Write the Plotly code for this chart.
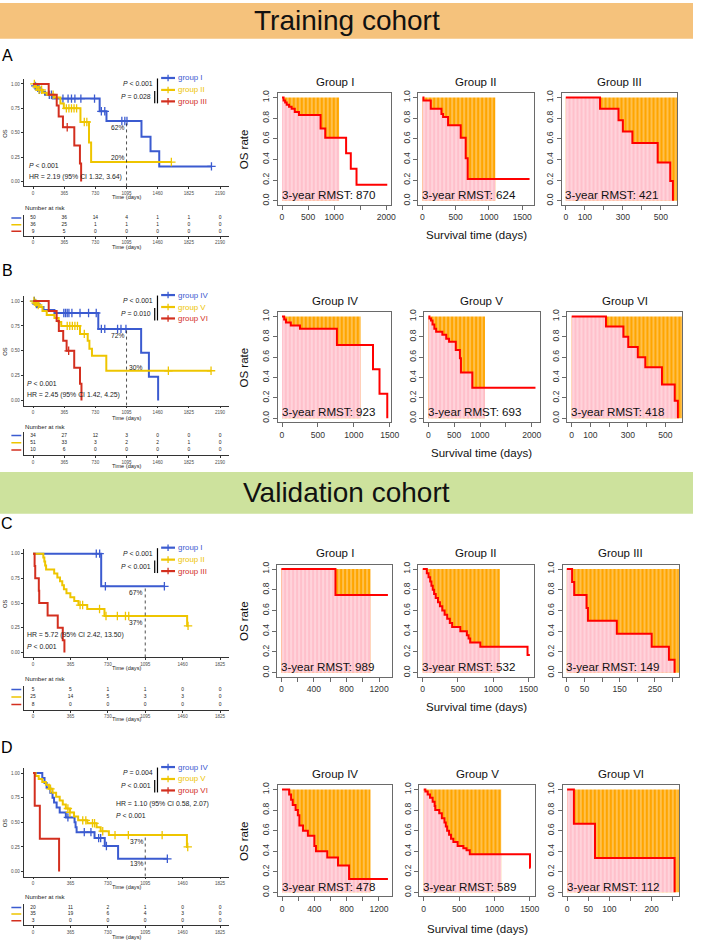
import plotly.graph_objects as go

W, H = 701, 942
FONT = "Liberation Sans, Arial, Helvetica, sans-serif"
BLUE = "#3B5BD0"
YELLOW = "#EEC500"
RED = "#D32F1F"
LINE_RED = "#FF0000"
PINK = "#FFC0CB"
ORANGE = "#FFA500"
AXIS_KM = "#333333"
AXIS_R = "#6A6A6A"
TAU = 1095

# ---------------- Kaplan-Meier data (left plots) ----------------
KM_TICKS_AB = [0, 365, 730, 1095, 1460, 1825, 2190]
KM_TICKS_CD = [0, 365, 730, 1095, 1460, 1825]

KM_A1_t = [0, 20, 45, 70, 100, 140, 230, 780, 860, 1270, 1376, 1478]
KM_A1_s = [1, .98, .96, .94, .92, .89, .85, .72, .62, .46, .31, .155]
KM_A1_cens = [25, 55, 75, 190, 215, 350, 410, 450, 490, 560, 720, 800, 840, 1040, 1075, 1100, 2090]
KM_A2_t = [0, 25, 60, 110, 160, 250, 320, 360, 555, 655, 680]
KM_A2_s = [1, .97, .94, .91, .89, .86, .80, .75, .61, .40, .20]
KM_A2_cens = [15, 40, 70, 100, 235, 390, 420, 450, 480, 510, 600, 630, 1620]
KM_A3_t = [0, 183, 277, 300, 350, 483, 549, 563]
KM_A3_s = [1, .889, .778, .667, .556, .37, .185, 0]
KM_A3_cens = [400]
KM_A_end = [2090, 1620, 563]

KM_B1_t = [0, 30, 55, 122, 250, 764, 1266, 1357, 1465]
KM_B1_s = [1, .97, .94, .91, .88, .72, .48, .24, 0]
KM_B1_cens = [15, 40, 360, 380, 400, 420, 455, 550, 650, 740, 800, 840, 990, 1030, 1088]
KM_B2_t = [0, 20, 40, 70, 110, 160, 250, 300, 330, 550, 640, 660, 690, 858]
KM_B2_s = [1, .98, .96, .94, .90, .86, .83, .79, .75, .67, .60, .52, .45, .30]
KM_B2_cens = [10, 30, 60, 400, 430, 460, 490, 520, 600, 1585, 2085]
KM_B3_t = [0, 183, 276, 302, 353, 393, 482, 550, 567]
KM_B3_s = [1, .9, .8, .7, .6, .5, .33, .17, 0]
KM_B3_cens = [417]
KM_B_end = [1465, 2085, 567]

KM_C1_t = [0, 665]
KM_C1_s = [1, .67]
KM_C1_cens = [617, 650, 706, 1282]
KM_C2_t = [0, 100, 110, 118, 127, 206, 237, 263, 285, 301, 326, 364, 402, 443, 529, 697, 1504]
KM_C2_s = [1, .96, .92, .88, .84, .80, .76, .72, .68, .64, .60, .56, .52, .48, .44, .37, .27]
KM_C2_cens = [459, 484, 649, 712, 823, 902, 934, 1513]
KM_C3_t = [0, 15, 21, 56, 60, 142, 241, 290, 306]
KM_C3_s = [1, .875, .75, .625, .5, .375, .25, .125, 0]
KM_C3_cens = []
KM_C_end = [1282, 1513, 306]

KM_D1_t = [0, 90, 112, 132, 168, 190, 205, 230, 260, 320, 405, 415, 425, 600, 700, 830]
KM_D1_s = [1, .95, .90, .85, .80, .75, .70, .65, .60, .55, .50, .45, .40, .34, .26, .13]
KM_D1_cens = [340, 500, 565, 640, 660, 716, 1311]
KM_D2_t = [0, 25, 55, 90, 125, 155, 190, 225, 260, 290, 320, 360, 400, 440, 530, 620, 660, 740, 1502]
KM_D2_s = [1, .97, .94, .91, .88, .84, .80, .76, .72, .68, .64, .60, .56, .52, .49, .45, .41, .37, .25]
KM_D2_cens = [170, 340, 360, 485, 515, 580, 600, 680, 800, 930, 1260, 1510]
KM_D3_t = [0, 16, 66, 254]
KM_D3_s = [1, .667, .333, 0]
KM_D3_cens = []
KM_D_end = [1311, 1510, 254]

# 3-year survival (dotted line) labels
PCT_A = ["62%", "20%"]
PCT_B = ["72%", "30%"]
PCT_C = ["67%", "37%"]
PCT_D = ["37%", "13%"]
DOT_TOP = {"A": 0.62, "B": 0.72, "C": 0.67, "D": 0.37}

# numbers at risk
RISK_A = [[50, 36, 14, 4, 1, 1, 0], [36, 25, 1, 1, 1, 0, 0], [9, 5, 0, 0, 0, 0, 0]]
RISK_B = [[34, 27, 12, 3, 0, 0, 0], [51, 33, 3, 2, 2, 1, 0], [10, 6, 0, 0, 0, 0, 0]]
RISK_C = [[5, 5, 1, 1, 0, 0], [25, 14, 5, 3, 3, 0], [8, 0, 0, 0, 0, 0]]
RISK_D = [[20, 11, 2, 1, 0, 0], [35, 19, 6, 4, 3, 0], [3, 0, 0, 0, 0, 0]]

GROUPS_AC = ["group I", "group II", "group III"]
GROUPS_BD = ["group IV", "group V", "group VI"]
PVALS_A = ["<i>P</i> &lt; 0.001", "<i>P</i> = 0.028"]
PVALS_B = ["<i>P</i> &lt; 0.001", "<i>P</i> = 0.010"]
PVALS_C = ["<i>P</i> &lt; 0.001", "<i>P</i> &lt; 0.001"]
PVALS_D = ["<i>P</i> = 0.004", "<i>P</i> &lt; 0.001"]
HR_A = "HR = 2.19 (95% CI 1.32, 3.64)"
HR_B = "HR = 2.45 (95% CI 1.42, 4.25)"
HR_C = "HR = 5.72 (95% CI 2.42, 13.50)"
HR_D = "HR = 1.10 (95% CI 0.58, 2.07)"

# ---------------- RMST data (right plots) ----------------
R_A1_t = [0, 30, 60, 90, 135, 185, 245, 325, 740, 830, 1230, 1320, 1430]
R_A1_s = [1, .97, .95, .93, .91, .89, .86, .83, .70, .61, .46, .31, .155]
R_A2_t = [0, 15, 125, 285, 310, 385, 575, 650, 680]
R_A2_s = [1, .97, .89, .84, .81, .73, .61, .41, .21]
R_A3_t = [0, 180, 277, 300, 350, 483, 549, 563]
R_A3_s = [1, .89, .78, .67, .56, .37, .19, 0]
R_A_end = [2020, 1610, 563]
RMST_A = [870, 624, 421]

R_B1_t = [0, 30, 55, 122, 250, 764, 1266, 1357, 1465]
R_B1_s = [1, .97, .94, .91, .88, .72, .48, .24, 0]
R_B2_t = [0, 20, 50, 80, 115, 150, 270, 345, 400, 530, 610, 630, 850]
R_B2_s = [1, .98, .96, .92, .88, .85, .82, .78, .75, .67, .59, .45, .30]
R_B3_t = [0, 183, 276, 302, 353, 393, 482, 550, 567]
R_B3_s = [1, .9, .8, .7, .6, .5, .33, .17, 0]
R_B_end = [1465, 2073, 567]
RMST_B = [923, 693, 418]

R_C1_t = [0, 664]
R_C1_s = [1, .75]
R_C2_t = [0, 58, 82, 105, 123, 142, 161, 184, 216, 244, 277, 310, 347, 384, 417, 533, 626, 650, 673, 817, 1487]
R_C2_s = [1, .96, .92, .88, .84, .80, .76, .72, .68, .64, .60, .56, .52, .48, .44, .40, .36, .33, .29, .25, .17]
R_C3_t = [0, 15, 21, 56, 60, 142, 241, 290, 306]
R_C3_s = [1, .875, .75, .625, .5, .375, .25, .125, 0]
R_C_end = [1308, 1520, 306]
RMST_C = [989, 532, 149]

R_D1_t = [0, 88, 112, 132, 168, 196, 215, 260, 320, 400, 420, 560, 693, 830]
R_D1_s = [1, .95, .90, .85, .80, .75, .65, .60, .55, .45, .40, .34, .26, .13]
R_D2_t = [0, 23, 56, 89, 126, 154, 163, 219, 256, 293, 312, 331, 358, 386, 419, 479, 560, 605, 651, 1502]
R_D2_s = [1, .98, .95, .92, .88, .84, .80, .77, .72, .68, .64, .60, .56, .52, .49, .45, .43, .41, .37, .24]
R_D3_t = [0, 16, 66, 254]
R_D3_s = [1, .667, .333, 0]
R_D_end = [1311, 1510, 254]
RMST_D = [478, 589, 112]

TITLES_AC = ["Group I", "Group II", "Group III"]
TITLES_BD = ["Group IV", "Group V", "Group VI"]

# x tick values / labels of the RMST panels ('' = label suppressed as in R)
TV_2000 = [0, 500, 1000, 1500, 2000]
TT_2000 = ["0", "500", "1000", "", "2000"]
TV_1500 = [0, 500, 1000, 1500]
TT_1500 = ["0", "500", "1000", "1500"]
TV_500 = [0, 100, 200, 300, 400, 500]
TT_500 = ["0", "100", "", "300", "", "500"]
TV_1200 = [0, 200, 400, 600, 800, 1000, 1200]
TT_1200 = ["0", "", "400", "", "800", "", "1200"]
TV_300 = [0, 50, 100, 150, 200, 250, 300]
TT_300 = ["0", "50", "", "150", "", "250", ""]
TV_250 = [0, 50, 100, 150, 200, 250]
TT_250 = ["0", "50", "100", "", "200", ""]


def X(px):
    return px / W


def Y(py):
    return 1 - py / H


fig = go.Figure()
axes = {}
shapes = []
annots = []
counter = [0]


def new_axes(x0, x1, ytop, ybot, xa, ya):
    counter[0] += 1
    k = counter[0]
    sfx = "" if k == 1 else str(k)
    axes["xaxis" + sfx] = dict(domain=[X(x0), X(x1)], anchor="y" + sfx, **xa)
    axes["yaxis" + sfx] = dict(domain=[Y(ybot), Y(ytop)], anchor="x" + sfx, **ya)
    return "x" + sfx, "y" + sfx


def text(px, py, s, size, color="#222222", xanchor="center", angle=0):
    annots.append(dict(x=X(px), y=Y(py), xref="paper", yref="paper", text=s,
                       showarrow=False, xanchor=xanchor, yanchor="middle",
                       textangle=angle, borderpad=0,
                       font=dict(size=size, color=color, family=FONT)))


def surv_at(t, s, x):
    v = s[0]
    for ti, si in zip(t, s):
        if ti <= x:
            v = si
    return v


def line(x0, y0, x1, y1, color, width, xref="paper", yref="paper", dash="solid"):
    shapes.append(dict(type="line", xref=xref, yref=yref, x0=x0, y0=y0, x1=x1, y1=y1,
                       line=dict(color=color, width=width, dash=dash)))


COLORS = [BLUE, YELLOW, RED]


def km_panel(p):
    y1, y0 = p["y1"], p["y0"]
    sp = y0 - y1
    ticks = p["ticks"]
    xrng = [-0.05 * ticks[-1], 1.05 * ticks[-1]]
    common = dict(showline=True, linecolor=AXIS_KM, linewidth=0.8, ticks="outside",
                  ticklen=2, tickwidth=0.6, tickcolor=AXIS_KM,
                  tickfont=dict(size=4.6, color="#4D4D4D", family=FONT),
                  showgrid=False, zeroline=False, fixedrange=True)
    xa = dict(range=xrng, tickvals=ticks, ticktext=[str(v) for v in ticks], **common)
    ya = dict(range=[-0.05, 1.05], tickvals=[0, .25, .5, .75, 1],
              ticktext=["0.00", "0.25", "0.50", "0.75", "1.00"], **common)
    xk, yk = new_axes(24, 232, y1 - 0.05 * sp, y0 + 0.05 * sp, xa, ya)

    for (t, s, cens), end, col in zip(p["curves"], p["ends"], COLORS):
        fig.add_trace(go.Scatter(x=t + [end], y=s + [s[-1]], mode="lines", line_shape="hv",
                                 line=dict(color=col, width=2), xaxis=xk, yaxis=yk,
                                 hoverinfo="skip", showlegend=False))
        if cens:
            fig.add_trace(go.Scatter(x=cens, y=[surv_at(t, s, c) for c in cens], mode="markers",
                                     marker=dict(symbol="cross-thin", size=6,
                                                 line=dict(color=col, width=1.3)),
                                     xaxis=xk, yaxis=yk, hoverinfo="skip", showlegend=False))
    # dotted 3-year line
    line(TAU, -0.05, TAU, p["dot_top"], "#222222", 0.8, xref=xk, yref=yk, dash="dot")
    # axis titles
    text(5, (y1 + y0) / 2, "OS", 5.8, angle=-90)
    text(127.5, p["time_y"], "Time (days)", 5.6)
    # legend
    for i, (g, col) in enumerate(zip(p["groups"], COLORS)):
        yy = y1 + [-6, 6, 17.5][i]
        line(X(163), Y(yy), X(177), Y(yy), col, 2.2)
        line(X(170), Y(yy - 3.3), X(170), Y(yy + 3.3), col, 1.3)
        text(179, yy, g, 7.9, color=col, xanchor="left")
    text(155.5, y1 - 0.5, p["pvals"][0], 6.9, xanchor="right")
    text(153.5, y1 + 13, p["pvals"][1], 6.9, xanchor="right")
    line(X(159.3), Y(y1 - 5.5), X(159.3), Y(y1 + 19.5), "#000000", 1.2)
    line(X(156.5), Y(y1 + 7), X(156.5), Y(y1 + 19.5), "#000000", 1.2)
    # HR / P
    for (px, py, s) in p["stats"]:
        text(px, py, s, 6.9, xanchor="left")
    # percentages
    for (px, py, s, anc) in p["pcts"]:
        text(px, py, s, 6.7, xanchor=anc)
    # panel letter
    text(7.5, p["label_y"], p["label"], 16, color="#000000")

    # number at risk table
    r = p["rows"]
    d = (r[2] - r[0]) / 2
    xa2 = dict(range=xrng, tickvals=ticks, ticktext=[str(v) for v in ticks], **common)
    ya2 = dict(range=[0.3, 3.5], showticklabels=False, ticks="", showline=True,
               linecolor=AXIS_KM, linewidth=0.8, showgrid=False, zeroline=False,
               fixedrange=True)
    xt, yt = new_axes(24, 232, r[0] - 0.5 * d, r[2] + 0.7 * d, xa2, ya2)
    for i, (vals, col) in enumerate(zip(p["risk"], COLORS)):
        fig.add_trace(go.Scatter(x=ticks, y=[3 - i] * len(ticks), text=[str(v) for v in vals],
                                 mode="text", textfont=dict(size=4.9, color="#222222", family=FONT),
                                 xaxis=xt, yaxis=yt, hoverinfo="skip", showlegend=False))
        line(X(11.5), 3 - i, X(21.5), 3 - i, col, 1.5, yref=yt)
    text(24, p["nar_y"], "Number at risk", 6.1, xanchor="left")
    text(127.5, p["ttime_y"], "Time (days)", 5.6)


def rmst_plot(x0, x1, ytop, ybot, title, t, s, end, val, tv, tt):
    M = end
    common = dict(showline=True, mirror=True, linecolor=AXIS_R, linewidth=1, ticks="outside",
                  ticklen=4, tickwidth=1, tickcolor=AXIS_R,
                  tickfont=dict(size=8.6, color="#333333", family=FONT),
                  showgrid=False, zeroline=False, fixedrange=True)
    xa = dict(range=[-0.04 * M, 1.04 * M], tickvals=tv, ticktext=tt, **common)
    ya = dict(range=[-0.04, 1.04], tickvals=[0, .2, .4, .6, .8, 1],
              ticktext=["0.0", "0.2", "0.4", "0.6", "0.8", "1.0"], tickangle=-90, **common)
    xr, yr = new_axes(x0, x1, ytop, ybot, xa, ya)
    fig.add_trace(go.Scatter(x=[0, TAU, TAU, 0, 0], y=[0, 0, 1, 1, 0], fill="toself", mode="lines",
                             line=dict(width=0, color="rgba(0,0,0,0)"), fillcolor=ORANGE,
                             fillpattern=dict(shape="|", bgcolor=ORANGE, fgcolor="white",
                                              size=4, solidity=0.3),
                             xaxis=xr, yaxis=yr, hoverinfo="skip", showlegend=False))
    pt = [v for v in t if v <= TAU] + [TAU]
    ps = [s[i] for i, v in enumerate(t) if v <= TAU] + [surv_at(t, s, TAU)]
    fig.add_trace(go.Scatter(x=pt, y=ps, fill="tozeroy", mode="lines", line_shape="hv",
                             line=dict(width=0, color="rgba(0,0,0,0)"), fillcolor=PINK,
                             fillpattern=dict(shape="|", bgcolor=PINK, fgcolor="white",
                                              size=4, solidity=0.3),
                             xaxis=xr, yaxis=yr, hoverinfo="skip", showlegend=False))
    fig.add_trace(go.Scatter(x=t + [end], y=s + [s[-1]], mode="lines", line_shape="hv",
                             line=dict(color=LINE_RED, width=2), xaxis=xr, yaxis=yr,
                             hoverinfo="skip", showlegend=False))
    text((x0 + x1) / 2, ytop - 11.7, title, 11.5, color="#111111")
    text(x0 + 3, ybot - 10.5, "3-year RMST: %d" % val, 11.6, color="#111111", xanchor="left")


def rmst_row(boxes, ytop, ybot, titles, curves, ends, vals, tvs, tts, xlab_y):
    for (x0, x1), title, (t, s), end, val, tv, tt in zip(boxes, titles, curves, ends, vals, tvs, tts):
        rmst_plot(x0, x1, ytop, ybot, title, t, s, end, val, tv, tt)
    text(247, (ytop + ybot) / 2, "OS rate", 11.5, color="#111111", angle=-90)
    text((boxes[1][0] + boxes[1][1]) / 2, xlab_y, "Survival time (days)", 11.5, color="#111111")


# ---------------- banners ----------------
shapes.append(dict(type="rect", xref="paper", yref="paper", x0=0, x1=1, y0=Y(36), y1=Y(0),
                   fillcolor="#F5C27C", line=dict(width=0), layer="below"))
shapes.append(dict(type="rect", xref="paper", yref="paper", x0=0, x1=1, y0=Y(513), y1=Y(471),
                   fillcolor="#CDE29D", line=dict(width=0), layer="below"))
text(350.5, 18, "Training cohort", 28, color="#111111")
text(350.5, 492, "Validation cohort", 28, color="#111111")

# ---------------- panels ----------------
km_panel(dict(label="A", label_y=52.5, y1=81.3, y0=179.3, ticks=KM_TICKS_AB,
              curves=[(KM_A1_t, KM_A1_s, KM_A1_cens), (KM_A2_t, KM_A2_s, KM_A2_cens),
                      (KM_A3_t, KM_A3_s, KM_A3_cens)], ends=KM_A_end,
              dot_top=DOT_TOP["A"], time_y=195, groups=GROUPS_AC, pvals=PVALS_A,
              stats=[(28.3, 163.3, "<i>P</i> &lt; 0.001"), (28.3, 175, HR_A)],
              pcts=[(126, 125.3, PCT_A[0], "right"), (126, 155, PCT_A[1], "right")],
              rows=[216, 222.7, 229.3], risk=RISK_A, nar_y=205, ttime_y=245))
km_panel(dict(label="B", label_y=269, y1=299.3, y0=399.3, ticks=KM_TICKS_AB,
              curves=[(KM_B1_t, KM_B1_s, KM_B1_cens), (KM_B2_t, KM_B2_s, KM_B2_cens),
                      (KM_B3_t, KM_B3_s, KM_B3_cens)], ends=KM_B_end,
              dot_top=DOT_TOP["B"], time_y=416.5, groups=GROUPS_BD, pvals=PVALS_B,
              stats=[(26.7, 381.7, "<i>P</i> &lt; 0.001"), (26.7, 393.3, HR_B)],
              pcts=[(126, 334.3, PCT_B[0], "right"), (129, 365.7, PCT_B[1], "left")],
              rows=[434.3, 441.7, 449], risk=RISK_B, nar_y=425.5, ttime_y=465))
km_panel(dict(label="C", label_y=523, y1=553, y0=652.3, ticks=KM_TICKS_CD,
              curves=[(KM_C1_t, KM_C1_s, KM_C1_cens), (KM_C2_t, KM_C2_s, KM_C2_cens),
                      (KM_C3_t, KM_C3_s, KM_C3_cens)], ends=KM_C_end,
              dot_top=DOT_TOP["C"], time_y=668.3, groups=GROUPS_AC, pvals=PVALS_C,
              stats=[(26.7, 635, HR_C), (26.7, 646.7, "<i>P</i> &lt; 0.001")],
              pcts=[(144.3, 592.3, PCT_C[0], "right"), (144.3, 622.3, PCT_C[1], "right")],
              rows=[689.5, 697, 704.5], risk=RISK_C, nar_y=678.3, ttime_y=719))
km_panel(dict(label="D", label_y=747.5, y1=773.3, y0=872.3, ticks=KM_TICKS_CD,
              curves=[(KM_D1_t, KM_D1_s, KM_D1_cens), (KM_D2_t, KM_D2_s, KM_D2_cens),
                      (KM_D3_t, KM_D3_s, KM_D3_cens)], ends=KM_D_end,
              dot_top=DOT_TOP["D"], time_y=887.7, groups=GROUPS_BD, pvals=PVALS_D,
              stats=[(116, 804.3, HR_D), (116, 815.7, "<i>P</i> &lt; 0.001")],
              pcts=[(145.3, 841.7, PCT_D[0], "right"), (145.3, 864.3, PCT_D[1], "right")],
              rows=[908.3, 915, 921.7], risk=RISK_D, nar_y=897.7, ttime_y=937.7))

rmst_row([(281, 396), (423, 540), (568, 685)], 90.7, 202.7, TITLES_AC,
         [(R_A1_t, R_A1_s), (R_A2_t, R_A2_s), (R_A3_t, R_A3_s)], R_A_end, RMST_A,
         [TV_2000, TV_1500, TV_500], [TT_2000, TT_1500, TT_500], 233.3)
rmst_row([(281, 396), (429, 546), (574, 690)], 310.7, 421, TITLES_BD,
         [(R_B1_t, R_B1_s), (R_B2_t, R_B2_s), (R_B3_t, R_B3_s)], R_B_end, RMST_B,
         [TV_1500, TV_2000, TV_500], [TT_1500, TT_2000, TT_500], 452)
rmst_row([(280.3, 396.7), (423.3, 540.3), (569, 686.7)], 564.3, 676.7, TITLES_AC,
         [(R_C1_t, R_C1_s), (R_C2_t, R_C2_s), (R_C3_t, R_C3_s)], R_C_end, RMST_C,
         [TV_1200, TV_1500, TV_300], [TT_1200, TT_1500, TT_300], 707)
rmst_row([(281, 396.7), (424.3, 541), (569.3, 686.7)], 785.7, 897.3, TITLES_BD,
         [(R_D1_t, R_D1_s), (R_D2_t, R_D2_s), (R_D3_t, R_D3_s)], R_D_end, RMST_D,
         [TV_1200, TV_1500, TV_250], [TT_1200, TT_1500, TT_250], 930)

fig.update_layout(width=W, height=H, margin=dict(l=0, r=0, t=0, b=0),
                  paper_bgcolor="white", plot_bgcolor="white", showlegend=False,
                  font=dict(family=FONT), shapes=shapes, annotations=annots, **axes)
fig.write_html("out.html", config={"displayModeBar": False},
               post_script="document.body.style.margin='0';document.body.style.padding='0';"
                           "document.body.style.overflow='hidden';")
